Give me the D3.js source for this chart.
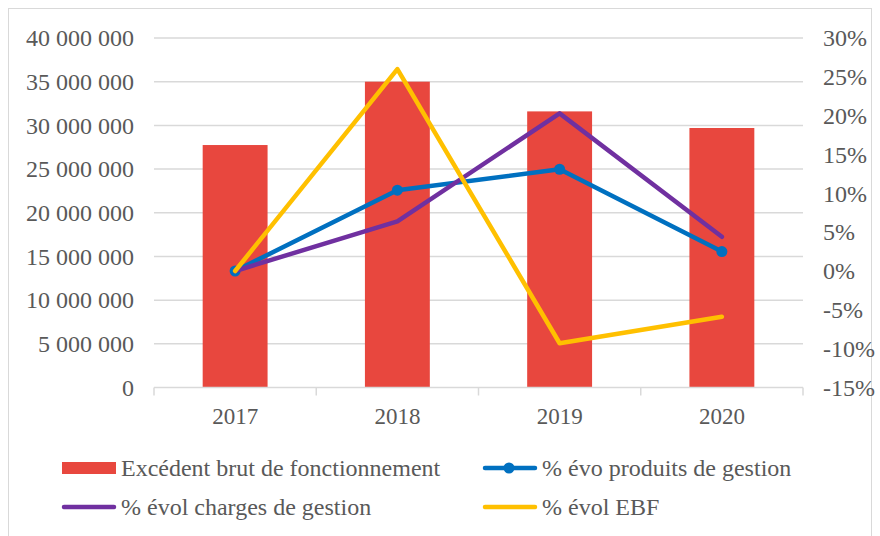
<!DOCTYPE html>
<html>
<head>
<meta charset="utf-8">
<script src="https://cdn.jsdelivr.net/npm/d3@7"></script>
<style>
  body { margin: 0; background: #fff; }
  text { font-family: "Liberation Serif", "Times New Roman", serif; fill: #595959; }
</style>
</head>
<body>
<svg id="chart" width="880" height="536"></svg>
<script>
const years = ["2017", "2018", "2019", "2020"];
const ebf = [27750000, 35000000, 31600000, 29700000];
const evoProduits = [0.0, 10.4, 13.1, 2.5];
const evolCharges = [0.0, 6.4, 20.3, 4.4];
const evolEbf = [0.0, 26.0, -9.3, -5.9];

const leftTicks = [0, 5e6, 10e6, 15e6, 20e6, 25e6, 30e6, 35e6, 40e6];
const rightTicks = [-15, -10, -5, 0, 5, 10, 15, 20, 25, 30];

const svg = d3.select("#chart");
const margin = {left: 154, right: 77, top: 38, bottom: 148.5};
const width = 880 - margin.left - margin.right;
const height = 536 - margin.top - margin.bottom;
const FONT = "Liberation Serif";

// outer frame
svg.append("rect")
    .attr("x", 8.5).attr("y", 8.5)
    .attr("width", 863).attr("height", 540)
    .attr("fill", "none").attr("stroke", "#d9d9d9").attr("stroke-width", 1);

const g = svg.append("g").attr("transform", `translate(${margin.left},${margin.top})`);

const x = d3.scaleBand().domain(years).range([0, width]).paddingInner(0.6).paddingOuter(0.3);
const xc = d3.scalePoint().domain(years).range([0, width]).padding(0.5);
const yL = d3.scaleLinear().domain([0, 40e6]).range([height, 0]);
const yR = d3.scaleLinear().domain([-15, 30]).range([height, 0]);

const fmtSpace = v => d3.format(",")(v).replace(/,/g, " ");

// gridlines
g.append("g").selectAll("line")
    .data(leftTicks.slice(1))
    .enter().append("line")
    .attr("x1", 0).attr("x2", width)
    .attr("y1", d => yL(d)).attr("y2", d => yL(d))
    .attr("stroke", "#d9d9d9").attr("stroke-width", 1.5);

// left axis
const axL = g.append("g")
    .call(d3.axisLeft(yL).tickValues(leftTicks).tickSize(0).tickPadding(20).tickFormat(fmtSpace));
axL.select(".domain").remove();
axL.selectAll("text").style("font-size", "24px").attr("fill", "#595959").style("font-family", FONT);

// right axis
const axR = g.append("g")
    .attr("transform", `translate(${width},0)`)
    .call(d3.axisRight(yR).tickValues(rightTicks).tickSize(0).tickPadding(20).tickFormat(d => d + "%"));
axR.select(".domain").remove();
axR.selectAll("text").style("font-size", "24px").attr("fill", "#595959").style("font-family", FONT);

// bars
g.append("g").selectAll("rect")
    .data(ebf)
    .enter().append("rect")
    .attr("x", (d, i) => x(years[i]))
    .attr("y", d => yL(d))
    .attr("width", x.bandwidth())
    .attr("height", d => height - yL(d))
    .attr("fill", "#E8473E");

// bottom axis
const step = width / years.length;
const axB = g.append("g").attr("transform", `translate(0,${height})`);
axB.append("line").attr("x1", 0).attr("x2", width).attr("y1", 0).attr("y2", 0)
    .attr("stroke", "#d9d9d9").attr("stroke-width", 1.5);
axB.selectAll("line.tk")
    .data(d3.range(years.length + 1))
    .enter().append("line").attr("class", "tk")
    .attr("x1", d => d * step).attr("x2", d => d * step)
    .attr("y1", 0).attr("y2", 8)
    .attr("stroke", "#d9d9d9").attr("stroke-width", 1.5);
axB.selectAll("text")
    .data(years)
    .enter().append("text")
    .attr("x", d => xc(d))
    .attr("y", 36)
    .attr("text-anchor", "middle")
    .style("font-size", "23px")
    .style("font-family", FONT)
    .text(d => d);

// lines
const line = d3.line().x((d, i) => xc(years[i])).y(d => yR(d));
const series = [
    {name: "% évo produits de gestion", values: evoProduits, color: "#0070C0", marker: true},
    {name: "% évol charges de gestion", values: evolCharges, color: "#7030A0", marker: false},
    {name: "% évol EBF", values: evolEbf, color: "#FFC000", marker: false}
];

series.forEach(s => {
    g.append("path")
        .datum(s.values)
        .attr("d", line)
        .attr("fill", "none")
        .attr("stroke", s.color)
        .attr("stroke-width", 4.5)
        .attr("stroke-linejoin", "round")
        .attr("stroke-linecap", "round");
    if (s.marker) {
        g.append("g").selectAll("circle")
            .data(s.values)
            .enter().append("circle")
            .attr("cx", (d, i) => xc(years[i]))
            .attr("cy", d => yR(d))
            .attr("r", 5.5)
            .attr("fill", s.color);
    }
});

// legend
const legend = svg.append("g");
const items = [
    {label: "Excédent brut de fonctionnement", type: "bar", color: "#E8473E", x: 62, y: 468},
    {label: "% évo produits de gestion", type: "marker", color: "#0070C0", x: 483, y: 468},
    {label: "% évol charges de gestion", type: "line", color: "#7030A0", x: 62, y: 507},
    {label: "% évol EBF", type: "line", color: "#FFC000", x: 483, y: 507}
];
items.forEach(it => {
    const li = legend.append("g").attr("transform", `translate(${it.x},${it.y})`);
    if (it.type === "bar") {
        li.append("rect").attr("x", 0).attr("y", -6).attr("width", 54).attr("height", 12).attr("fill", it.color);
    } else {
        li.append("line").attr("x1", 2).attr("x2", 52).attr("y1", 0).attr("y2", 0)
            .attr("stroke", it.color).attr("stroke-width", 4.5).attr("stroke-linecap", "round");
        if (it.type === "marker") {
            li.append("circle").attr("cx", 26).attr("cy", 0).attr("r", 5.5).attr("fill", it.color);
        }
    }
    li.append("text")
        .attr("x", 59).attr("y", 0).attr("dy", "0.35em")
        .style("font-size", "24px")
        .style("font-family", FONT)
        .text(it.label);
});
</script>
</body>
</html>
